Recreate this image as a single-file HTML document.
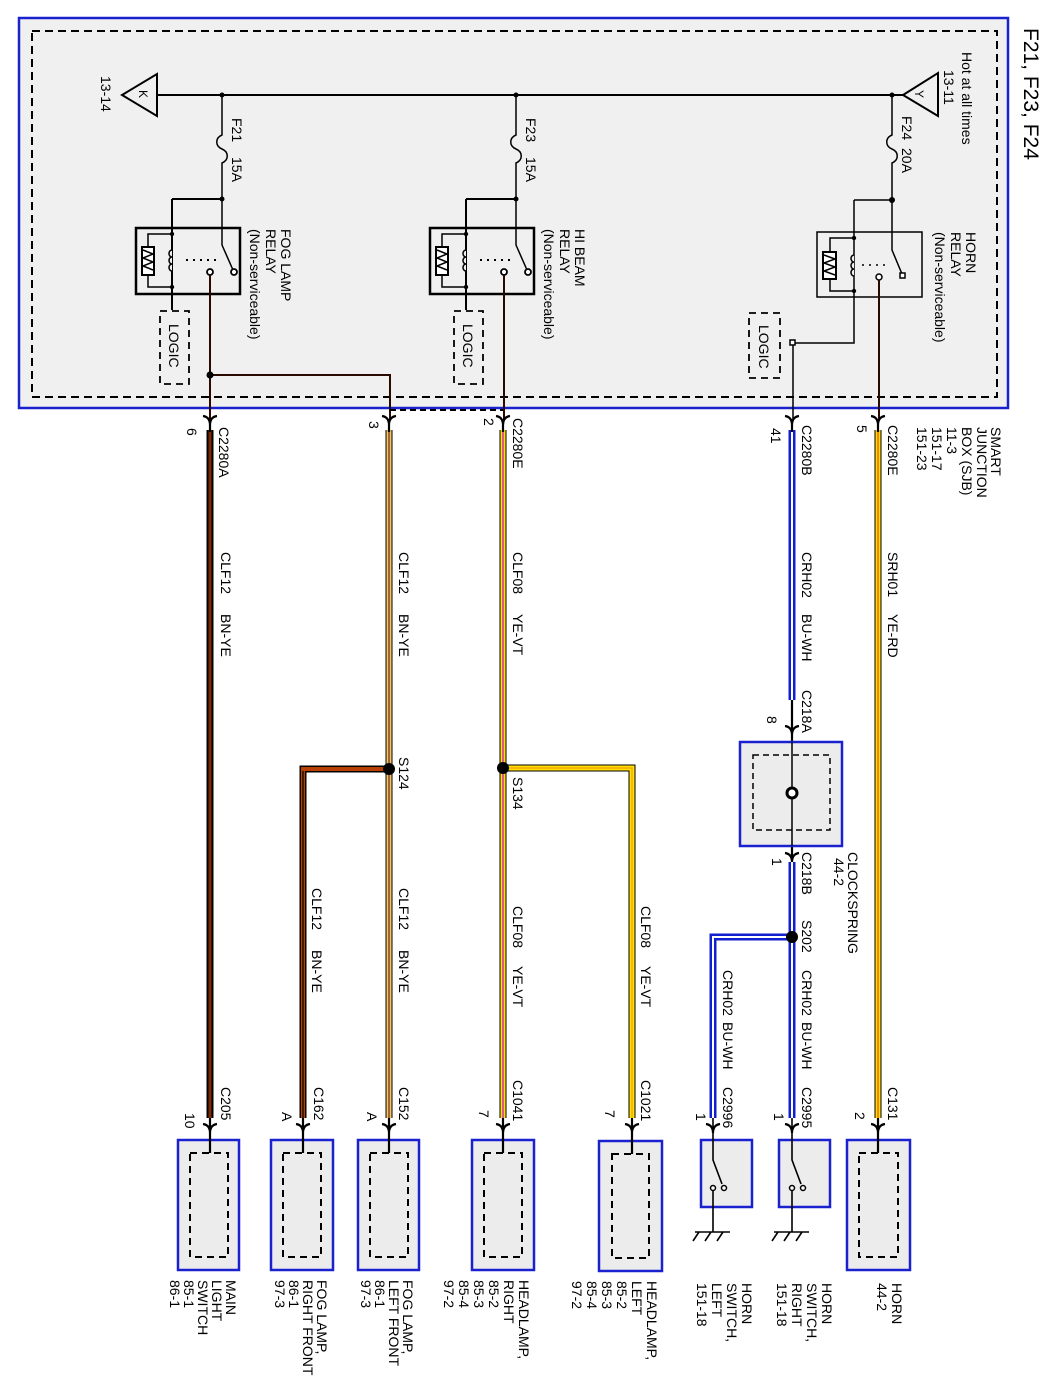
<!DOCTYPE html>
<html><head><meta charset="utf-8"><style>
html,body{margin:0;padding:0;background:#fff;}
svg{display:block;}
text{font-family:"Liberation Sans",Arial,sans-serif;font-size:14px;fill:#000;}
</style></head><body>
<svg width="1055" height="1397" viewBox="0 0 1055 1397" xmlns="http://www.w3.org/2000/svg">
<defs>
<g id="relay">
  <rect x="136" y="228" width="104" height="66" fill="none" stroke="#000" stroke-width="2.5"/>
  <path d="M172,199 V310" stroke="#000" stroke-width="2" fill="none"/>
  <path d="M172,234 H148 V287 H172" stroke="#000" stroke-width="1.5" fill="none"/>
  <rect x="142" y="247" width="12" height="28" fill="#fff" stroke="#000" stroke-width="2"/>
  <path d="M143,250 L153,254 L143,258 L153,262 L143,266 L153,270" stroke="#000" stroke-width="1.5" fill="none"/>
  <path d="M172,250 a3,3.5 0 0 0 0,7 a3,3.5 0 0 0 0,7 a3,3.5 0 0 0 0,7" stroke="#000" stroke-width="1.5" fill="#f0f0f0"/>
  <circle cx="172" cy="234" r="2.2"/><circle cx="172" cy="287" r="2.2"/>
  <path d="M186,260 H218" stroke="#000" stroke-width="2" stroke-dasharray="2,5"/>
  <path d="M222,199 V245 L233,270" stroke="#000" stroke-width="1.5" fill="none"/>
  <circle cx="234" cy="272" r="3" fill="#fff" stroke="#000" stroke-width="1.8"/>
  <path d="M172,199 H222" stroke="#000" stroke-width="2"/>
  <circle cx="222" cy="199" r="2.5"/>
  <rect x="160" y="311" width="29" height="73" fill="none" stroke="#000" stroke-width="1.8" stroke-dasharray="7,5"/>
  <text transform="translate(169,324) rotate(90)">LOGIC</text>
  <path d="M222,95 V135 c-7,3 -7,11 0,14 c7,3 7,11 0,14 V199" stroke="#000" stroke-width="1.5" fill="none"/>
  <circle cx="222" cy="95" r="2.5"/>
</g>
</defs>

<rect x="19" y="18" width="989" height="390" fill="#f0f0f0" stroke="#1a22d0" stroke-width="2.5"/>
<rect x="32" y="31" width="965" height="366" fill="none" stroke="#000" stroke-width="2" stroke-dasharray="8,5"/>

<text transform="translate(1024,28) rotate(90)" style="font-size:21px">F21, F23, F24</text>

<path d="M157,95 H903" stroke="#000" stroke-width="2"/>
<path d="M157,74 V116 L122,95 Z" fill="#f0f0f0" stroke="#000" stroke-width="2"/>
<text transform="translate(139,90) rotate(90)" style="font-size:12px">K</text>
<text transform="translate(101,76) rotate(90)">13-14</text>
<path d="M938,73 V116 L903,95 Z" fill="#f0f0f0" stroke="#000" stroke-width="2"/>
<text transform="translate(915,90) rotate(90)" style="font-size:12px">Y</text>
<text transform="translate(962,52) rotate(90)">Hot at all times</text>
<text transform="translate(944,70) rotate(90)">13-11</text>

<use href="#relay"/>
<circle cx="210" cy="272" r="3" fill="#fff" stroke="#000" stroke-width="1.8"/>
<path d="M210,275 V420 M210,375 H390 V420" stroke="#2a0a00" stroke-width="2" fill="none"/>
<circle cx="210" cy="375" r="3.5"/>
<text transform="translate(232,118) rotate(90)">F21</text>
<text transform="translate(232,157) rotate(90)">15A</text>
<text transform="translate(281,229) rotate(90)">FOG LAMP</text>
<text transform="translate(266,229) rotate(90)">RELAY</text>
<text transform="translate(250,229) rotate(90)">(Non-serviceable)</text>

<use href="#relay" transform="translate(294,0)"/>
<circle cx="504" cy="272" r="3" fill="#fff" stroke="#000" stroke-width="1.8"/>
<path d="M504,275 V420" stroke="#2a0a00" stroke-width="2"/>
<text transform="translate(526,118) rotate(90)">F23</text>
<text transform="translate(526,157) rotate(90)">15A</text>
<text transform="translate(575,229) rotate(90)">HI BEAM</text>
<text transform="translate(560,229) rotate(90)">RELAY</text>
<text transform="translate(544,229) rotate(90)">(Non-serviceable)</text>

<path d="M892,95 V135 c-7,3 -7,11 0,14 c7,3 7,11 0,14 V250 L902,274" stroke="#000" stroke-width="1.5" fill="none"/>
<circle cx="892" cy="95" r="2.5"/><circle cx="892" cy="200" r="3"/>
<path d="M854,200 H892 M854,200 V343 H793 V420" stroke="#000" stroke-width="1.5" fill="none"/>
<rect x="817" y="232" width="105" height="65" fill="none" stroke="#000" stroke-width="1.5"/>
<path d="M854,238 H830 V291 H854" stroke="#000" stroke-width="1.5" fill="none"/>
<rect x="823" y="252" width="13" height="27" fill="#fff" stroke="#000" stroke-width="2"/>
<path d="M824,255 L835,259 L824,263 L835,267 L824,271 L835,275" stroke="#000" stroke-width="1.5" fill="none"/>
<path d="M854,255 a3,3.5 0 0 0 0,7 a3,3.5 0 0 0 0,7 a3,3.5 0 0 0 0,7" stroke="#000" stroke-width="1.5" fill="#f0f0f0"/>
<circle cx="854" cy="238" r="2.2"/><circle cx="854" cy="291" r="2.2"/>
<path d="M862,265 H888" stroke="#000" stroke-width="1.5" stroke-dasharray="2,5"/>
<rect x="900" y="273" width="5" height="5" fill="#fff" stroke="#000" stroke-width="1.5"/>
<circle cx="879" cy="277" r="3" fill="#fff" stroke="#000" stroke-width="1.5"/>
<path d="M879,280 V420" stroke="#2a0a00" stroke-width="2"/>
<rect x="790" y="340" width="5" height="5" fill="#fff" stroke="#000" stroke-width="1.5"/>
<rect x="749" y="313" width="31" height="65" fill="none" stroke="#000" stroke-width="1.8" stroke-dasharray="7,5"/>
<text transform="translate(759,325) rotate(90)">LOGIC</text>
<text transform="translate(902,116) rotate(90)">F24</text>
<text transform="translate(902,148) rotate(90)">20A</text>
<text transform="translate(966,232) rotate(90)">HORN</text>
<text transform="translate(951,232) rotate(90)">RELAY</text>
<text transform="translate(935,232) rotate(90)">(Non-serviceable)</text>

<path d="M390,410 H503" stroke="#000" stroke-width="2" stroke-dasharray="6,4"/>

<g fill="none" stroke-linejoin="miter">
  <path d="M210,430 V1118" stroke="#000" stroke-width="7"/>
  <path d="M210,430 V1118" stroke="#7a2a00" stroke-width="3"/>
  <path d="M389,430 V1118 M389,769 H303 V1118" stroke="#000" stroke-width="7"/>
  <path d="M389,769 H303 V1118" stroke="#b84000" stroke-width="4"/>
  <path d="M303,771 V1118" stroke="#000" stroke-width="1.2"/>
  <path d="M389,430 V1118" stroke="#f2c46a" stroke-width="5"/>
  <path d="M389,430 V1118" stroke="#6a2800" stroke-width="1.2"/>
  <path d="M503,430 V1118 M503,768 H632 V1118" stroke="#000" stroke-width="7"/>
  <path d="M503,430 V1118 M503,768 H632 V1118" stroke="#ffe000" stroke-width="5"/>
  <path d="M503,768 H632 V1118" stroke="#f0a000" stroke-width="1.2"/>
  <path d="M503,430 V1118" stroke="#d020c0" stroke-width="1.4"/>
  <path d="M792,430 V700 M792,862 V1118 M792,937 H713 V1118" stroke="#1020d0" stroke-width="7"/>
  <path d="M792,430 V700 M792,862 V1118 M792,937 H713 V1118" stroke="#fff" stroke-width="2"/>
  <path d="M878,430 V1118" stroke="#000" stroke-width="7"/>
  <path d="M878,430 V1118" stroke="#ffe000" stroke-width="5"/>
  <path d="M878,430 V1118" stroke="#e03000" stroke-width="1"/>
</g>
<circle cx="389" cy="769" r="6"/><circle cx="503" cy="768" r="6"/><circle cx="792" cy="937" r="6"/>

<g stroke="#000" stroke-width="2.2" fill="none">
  <path d="M203,416 Q210,417 210,425 Q210,417 217,416 M210,420 V432"/>
  <path d="M382,416 Q389,417 389,425 Q389,417 396,416 M389,420 V432"/>
  <path d="M496,416 Q503,417 503,425 Q503,417 510,416 M503,420 V432"/>
  <path d="M785,416 Q792,417 792,425 Q792,417 799,416 M792,420 V432"/>
  <path d="M871,416 Q878,417 878,425 Q878,417 885,416 M878,420 V432"/>
  <path d="M785,726 Q792,727 792,735 Q792,727 799,726 M792,700 V742"/>
  <path d="M785,853 Q792,854 792,862 Q792,854 799,853 M792,846 V862"/>
</g>
<text transform="translate(219,427) rotate(90)">C2280A</text>
<text transform="translate(187,428) rotate(90)">6</text>
<text transform="translate(369,421) rotate(90)">3</text>
<text transform="translate(484,418) rotate(90)">2</text>
<text transform="translate(513,418) rotate(90)">C2280E</text>
<text transform="translate(771,428) rotate(90)">41</text>
<text transform="translate(802,425) rotate(90)">C2280B</text>
<text transform="translate(857,425) rotate(90)">5</text>
<text transform="translate(888,425) rotate(90)">C2280E</text>
<text transform="translate(991,427) rotate(90)">SMART</text>
<text transform="translate(977,427) rotate(90)">JUNCTION</text>
<text transform="translate(962,427) rotate(90)">BOX (SJB)</text>
<text transform="translate(947,427) rotate(90)">11-3</text>
<text transform="translate(932,427) rotate(90)">151-17</text>
<text transform="translate(917,427) rotate(90)">151-23</text>

<text transform="translate(221,552) rotate(90)">CLF12</text><text transform="translate(221,614) rotate(90)">BN-YE</text>
<text transform="translate(399,552) rotate(90)">CLF12</text><text transform="translate(399,614) rotate(90)">BN-YE</text>
<text transform="translate(513,552) rotate(90)">CLF08</text><text transform="translate(513,614) rotate(90)">YE-VT</text>
<text transform="translate(802,552) rotate(90)">CRH02</text><text transform="translate(802,614) rotate(90)">BU-WH</text>
<text transform="translate(888,552) rotate(90)">SRH01</text><text transform="translate(888,614) rotate(90)">YE-RD</text>
<text transform="translate(312,888) rotate(90)">CLF12</text><text transform="translate(312,950) rotate(90)">BN-YE</text>
<text transform="translate(399,888) rotate(90)">CLF12</text><text transform="translate(399,950) rotate(90)">BN-YE</text>
<text transform="translate(513,906) rotate(90)">CLF08</text><text transform="translate(513,966) rotate(90)">YE-VT</text>
<text transform="translate(641,906) rotate(90)">CLF08</text><text transform="translate(641,966) rotate(90)">YE-VT</text>
<text transform="translate(723,970) rotate(90)">CRH02</text><text transform="translate(723,1022) rotate(90)">BU-WH</text>
<text transform="translate(802,970) rotate(90)">CRH02</text><text transform="translate(802,1022) rotate(90)">BU-WH</text>
<text transform="translate(399,757) rotate(90)">S124</text>
<text transform="translate(513,777) rotate(90)">S134</text>
<text transform="translate(802,920) rotate(90)">S202</text>
<text transform="translate(802,690) rotate(90)">C218A</text>
<text transform="translate(767,716) rotate(90)">8</text>
<text transform="translate(802,852) rotate(90)">C218B</text>
<text transform="translate(772,858) rotate(90)">1</text>
<text transform="translate(848,852) rotate(90)">CLOCKSPRING</text>
<text transform="translate(834,858) rotate(90)">44-2</text>

<rect x="740" y="742" width="102" height="104" fill="#ececec" stroke="#1a22d0" stroke-width="2.5"/>
<rect x="753" y="755" width="77" height="75" fill="none" stroke="#000" stroke-width="1.5" stroke-dasharray="6,4"/>
<path d="M792,742 V846" stroke="#000" stroke-width="1.5"/>
<circle cx="792" cy="793" r="5" fill="#fff" stroke="#000" stroke-width="3"/>

<g fill="#ececec" stroke="#1a22d0" stroke-width="2.5">
  <rect x="178" y="1140" width="61" height="130"/>
  <rect x="271" y="1140" width="62" height="130"/>
  <rect x="358" y="1140" width="61" height="130"/>
  <rect x="472" y="1140" width="62" height="130"/>
  <rect x="599" y="1141" width="63" height="130"/>
  <rect x="701" y="1140" width="51" height="67"/>
  <rect x="779" y="1140" width="51" height="67"/>
  <rect x="847" y="1140" width="63" height="130"/>
</g>
<g fill="none" stroke="#000" stroke-width="2" stroke-dasharray="7,5">
  <rect x="190" y="1153" width="38" height="104"/>
  <rect x="283" y="1153" width="38" height="104"/>
  <rect x="370" y="1153" width="38" height="104"/>
  <rect x="484" y="1153" width="38" height="104"/>
  <rect x="612" y="1154" width="37" height="104"/>
  <rect x="859" y="1153" width="39" height="104"/>
</g>
<g stroke="#000" stroke-width="2.2" fill="none">
  <path d="M203,1124 Q210,1125 210,1133 Q210,1125 217,1124 M210,1118 V1153"/>
  <path d="M296,1124 Q303,1125 303,1133 Q303,1125 310,1124 M303,1118 V1153"/>
  <path d="M382,1124 Q389,1125 389,1133 Q389,1125 396,1124 M389,1118 V1153"/>
  <path d="M496,1124 Q503,1125 503,1133 Q503,1125 510,1124 M503,1118 V1153"/>
  <path d="M625,1124 Q632,1125 632,1133 Q632,1125 639,1124 M632,1118 V1154"/>
  <path d="M706,1124 Q713,1125 713,1133 Q713,1125 720,1124"/>
  <path d="M785,1124 Q792,1125 792,1133 Q792,1125 799,1124"/>
  <path d="M871,1124 Q878,1125 878,1133 Q878,1125 885,1124 M878,1118 V1153"/>
</g>
<g stroke="#000" stroke-width="1.6" fill="none">
  <path d="M713,1118 V1160 L722,1184 M713,1191 V1232 M695,1232 H730 M699,1232 l-6,9 M711,1232 l-6,9 M723,1232 l-6,9"/>
  <path d="M792,1118 V1160 L801,1184 M792,1191 V1232 M774,1232 H809 M778,1232 l-6,9 M790,1232 l-6,9 M802,1232 l-6,9"/>
</g>
<g fill="#fff" stroke="#000" stroke-width="1.5">
  <circle cx="724" cy="1188" r="2.5"/><circle cx="713" cy="1188" r="2.5"/>
  <circle cx="803" cy="1188" r="2.5"/><circle cx="792" cy="1188" r="2.5"/>
</g>

<text transform="translate(221,1087) rotate(90)">C205</text><text transform="translate(185,1113) rotate(90)">10</text>
<text transform="translate(314,1087) rotate(90)">C162</text><text transform="translate(282,1112) rotate(90)">A</text>
<text transform="translate(399,1087) rotate(90)">C152</text><text transform="translate(367,1112) rotate(90)">A</text>
<text transform="translate(513,1080) rotate(90)">C1041</text><text transform="translate(479,1110) rotate(90)">7</text>
<text transform="translate(641,1080) rotate(90)">C1021</text><text transform="translate(605,1110) rotate(90)">7</text>
<text transform="translate(723,1087) rotate(90)">C2996</text><text transform="translate(696,1113) rotate(90)">1</text>
<text transform="translate(802,1087) rotate(90)">C2995</text><text transform="translate(774,1113) rotate(90)">1</text>
<text transform="translate(888,1087) rotate(90)">C131</text><text transform="translate(855,1112) rotate(90)">2</text>

<text transform="translate(226,1280) rotate(90)">MAIN</text>
<text transform="translate(212,1280) rotate(90)">LIGHT</text>
<text transform="translate(198,1280) rotate(90)">SWITCH</text>
<text transform="translate(184,1280) rotate(90)">85-1</text>
<text transform="translate(170,1280) rotate(90)">86-1</text>

<text transform="translate(317,1280) rotate(90)">FOG LAMP,</text>
<text transform="translate(303,1280) rotate(90)">RIGHT FRONT</text>
<text transform="translate(289,1280) rotate(90)">86-1</text>
<text transform="translate(275,1280) rotate(90)">97-3</text>

<text transform="translate(403,1280) rotate(90)">FOG LAMP,</text>
<text transform="translate(389,1280) rotate(90)">LEFT FRONT</text>
<text transform="translate(375,1280) rotate(90)">86-1</text>
<text transform="translate(361,1280) rotate(90)">97-3</text>

<text transform="translate(519,1280) rotate(90)">HEADLAMP,</text>
<text transform="translate(504,1280) rotate(90)">RIGHT</text>
<text transform="translate(489,1280) rotate(90)">85-2</text>
<text transform="translate(474,1280) rotate(90)">85-3</text>
<text transform="translate(459,1280) rotate(90)">85-4</text>
<text transform="translate(444,1280) rotate(90)">97-2</text>

<text transform="translate(647,1281) rotate(90)">HEADLAMP,</text>
<text transform="translate(632,1281) rotate(90)">LEFT</text>
<text transform="translate(617,1281) rotate(90)">85-2</text>
<text transform="translate(602,1281) rotate(90)">85-3</text>
<text transform="translate(587,1281) rotate(90)">85-4</text>
<text transform="translate(572,1281) rotate(90)">97-2</text>

<text transform="translate(742,1283) rotate(90)">HORN</text>
<text transform="translate(727,1283) rotate(90)">SWITCH,</text>
<text transform="translate(712,1283) rotate(90)">LEFT</text>
<text transform="translate(697,1283) rotate(90)">151-18</text>

<text transform="translate(822,1283) rotate(90)">HORN</text>
<text transform="translate(807,1283) rotate(90)">SWITCH,</text>
<text transform="translate(792,1283) rotate(90)">RIGHT</text>
<text transform="translate(777,1283) rotate(90)">151-18</text>

<text transform="translate(892,1283) rotate(90)">HORN</text>
<text transform="translate(877,1283) rotate(90)">44-2</text>
</svg>
</body></html>
